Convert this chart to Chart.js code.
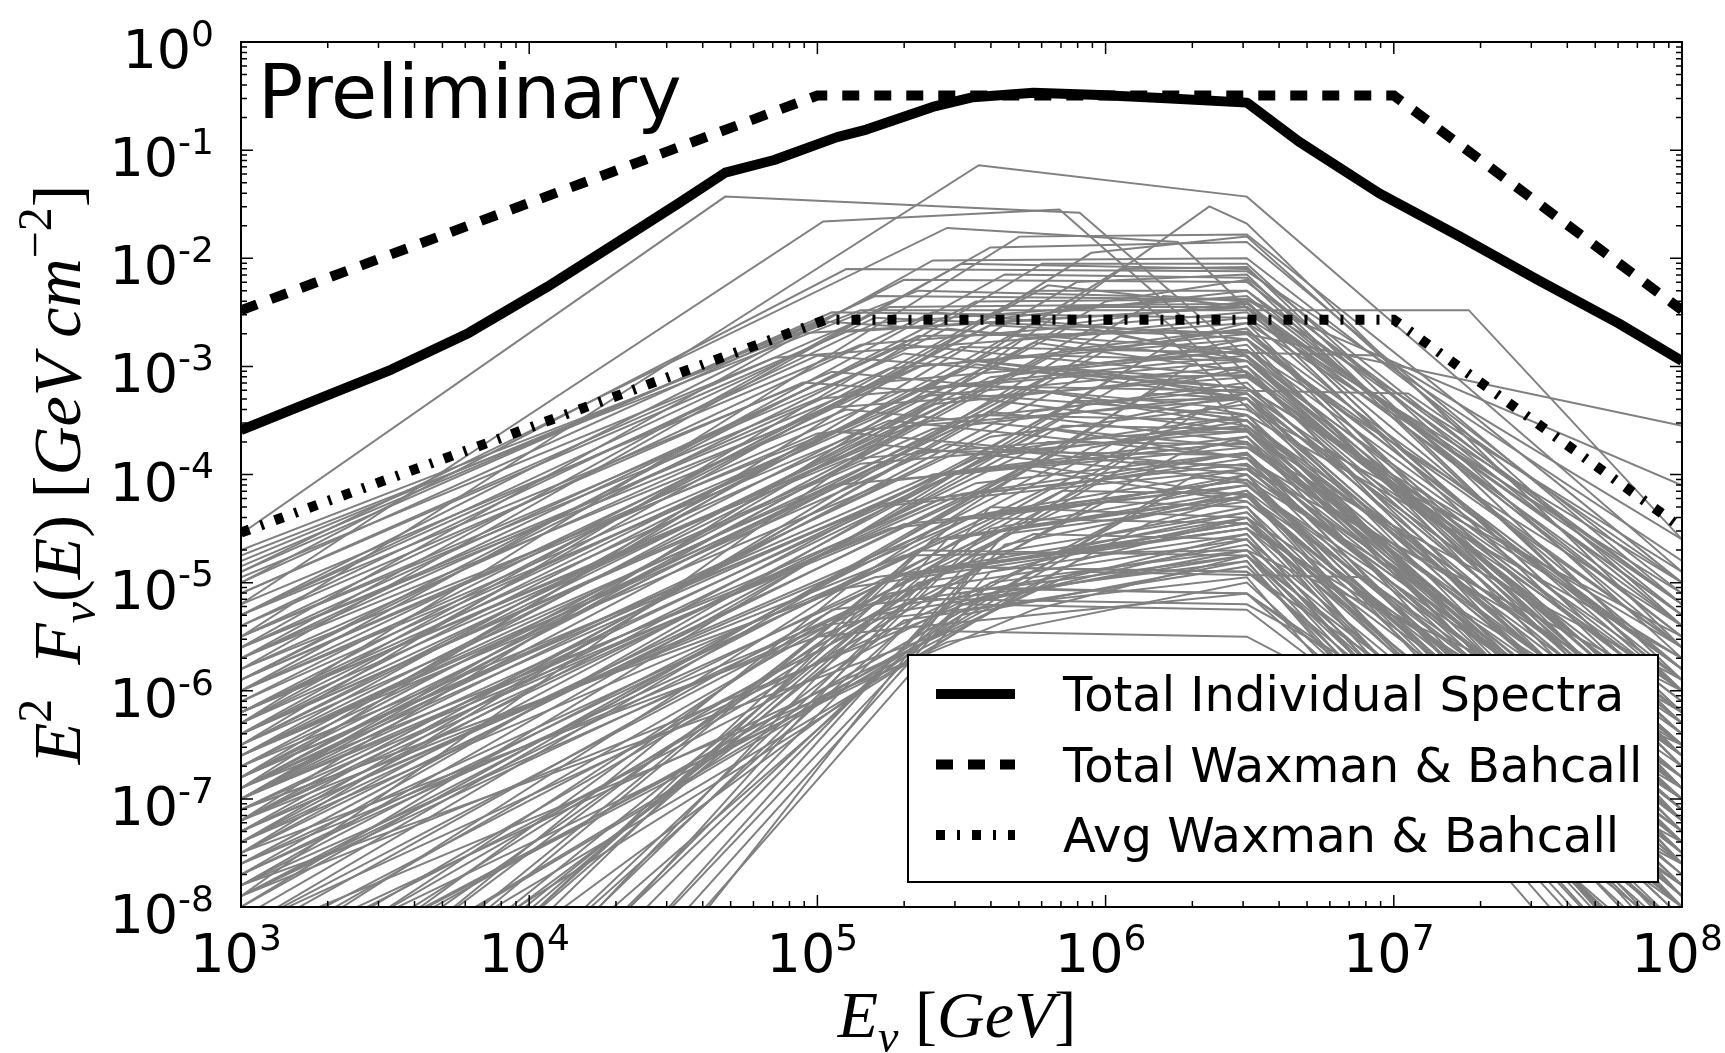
<!DOCTYPE html>
<html>
<head>
<meta charset="utf-8">
<script src="https://cdn.jsdelivr.net/npm/chart.js@4.4.1/dist/chart.umd.min.js"></script>
<style>
  html, body { margin: 0; padding: 0; background: #ffffff; }
  #wrap { width: 1725px; height: 1053px; }
</style>
</head>
<body>
<div id="wrap"><canvas id="spectraChart" width="1725" height="1053"></canvas></div>
<script>

// TICKS (log10 exponents)

const xTickExponents = [3, 4, 5, 6, 7, 8];
const yTickExponents = [0, -1, -2, -3, -4, -5, -6, -7, -8];

const legendLabels = [
  "Total Individual Spectra",
  "Total Waxman & Bahcall",
  "Avg Waxman & Bahcall"
];

// TOTAL INDIVIDUAL SPECTRA (GeV, GeV cm^-2)

const totalSpectraE = [
  1e3, 1.82e3, 3.31e3, 6.17e3, 1.15e4, 2.09e4, 3.31e4, 4.79e4,
  7.08e4, 1.17e5, 1.48e5, 2.51e5, 3.47e5, 5.62e5, 9.55e5, 1.62e6,
  3.09e6, 4.68e6, 8.91e6, 1.70e7, 3.16e7, 6.03e7, 1e8
];
const totalSpectraF = [
  2.57e-4, 4.9e-4, 9.3e-4, 2.04e-3, 5.4e-3, 1.48e-2, 3.24e-2, 6.2e-2,
  8.1e-2, 0.132, 0.155, 0.251, 0.309, 0.339, 0.324, 0.302,
  0.275, 0.120, 0.0398, 0.0158, 6.3e-3, 2.5e-3, 1.12e-3
];

// TOTAL WAXMAN & BAHCALL

const totalWbE = [1e3, 1e5, 1e7, 1e8];
const totalWbF = [3.3e-3, 0.32, 0.32, 3.3e-3];

// AVG WAXMAN & BAHCALL

const avgWbE = [1e3, 1.07e5, 1e7, 1e8];
const avgWbF = [2.9e-5, 2.7e-3, 2.7e-3, 3.2e-5];

// INDIVIDUAL SPECTRA, one row per burst, all log10:
// [F at 1e3 GeV, E break 1, F break 1, E break 2, F break 2, F at 1e8 GeV]

const individualSpectra = [
  [-5.5, 5.56, -1.14, 6.49, -1.43, -4.9],
  [-4.55, 4.68, -1.43, 5.91, -1.58, -6.4],
  [-5.2, 5.02, -1.66, 5.84, -1.55, -6.6],
  [-7.9, 6.36, -1.52, 6.49, -1.68, -5.6],
  [-4.9, 5.45, -1.72, 6.25, -1.85, -6.3],
  [-6.3, 5.70, -1.80, 6.49, -1.78, -5.0],
  [-5.8, 5.60, -1.90, 6.49, -1.85, -5.2],
  [-6.9, 5.95, -1.95, 6.49, -1.80, -5.4],
  [-5.6, 5.40, -2.02, 6.49, -2.00, -5.1],
  [-6.5, 5.78, -2.05, 6.49, -2.05, -5.7],
  [-5.0, 5.10, -2.10, 6.49, -2.12, -4.8],
  [-7.2, 6.05, -2.10, 6.49, -2.08, -5.9],
  [-6.0, 5.65, -2.15, 6.49, -2.18, -5.4],
  [-5.3, 5.30, -2.20, 6.49, -2.22, -5.2],
  [-6.8, 5.90, -2.22, 6.49, -2.15, -6.0],
  [-4.75, 5.35, -2.30, 6.10, -2.35, -6.5],
  [-6.3, 5.75, -2.30, 6.49, -2.30, -5.6],
  [-4.7, 5.15, -2.48, 7.26, -2.48, -4.6],
  [-5.3, 5.20, -2.55, 6.49, -2.70, -3.55],
  [-5.9, 5.55, -2.40, 6.49, -2.38, -4.1],
  [-7.5, 6.20, -2.35, 6.49, -2.40, -6.2],
  [-5.1, 5.25, -2.45, 6.49, -2.42, -5.3],
  [-6.6, 5.85, -2.45, 6.49, -2.45, -5.8],
  [-4.9, 5.05, -2.50, 6.49, -2.55, -5.0],
  [-5.4, 5.20, -2.60, 6.49, -2.35, -5.5],
  [-6.2, 5.60, -2.62, 6.20, -2.70, -6.9],
  [-7.0, 5.95, -2.65, 6.49, -2.95, -6.3],
  [-4.8, 4.90, -2.70, 6.49, -2.45, -5.2],
  [-5.7, 5.35, -2.72, 6.49, -2.68, -5.6],
  [-8.0, 6.25, -2.75, 6.49, -2.60, -6.6],
  [-6.5, 5.75, -2.78, 6.49, -3.05, -6.1],
  [-5.2, 5.15, -2.80, 6.49, -2.50, -5.4],
  [-6.0, 5.50, -2.82, 6.95, -2.90, -4.6],
  [-7.3, 6.00, -2.85, 6.49, -2.65, -6.4],
  [-5.5, 5.30, -2.88, 6.49, -3.20, -5.7],
  [-6.8, 5.80, -2.90, 6.49, -2.95, -6.5],
  [-4.95, 4.85, -2.92, 6.49, -2.60, -5.1],
  [-6.3, 5.55, -2.95, 6.49, -3.25, -6.0],
  [-8.6, 6.30, -2.98, 6.49, -3.05, -6.9],
  [-5.8, 5.35, -3.00, 6.49, -2.70, -5.9],
  [-7.0, 5.85, -3.02, 6.30, -3.10, -7.4],
  [-5.3, 5.05, -3.05, 6.49, -3.40, -5.5],
  [-6.6, 5.65, -3.08, 6.49, -2.80, -6.7],
  [-7.8, 6.10, -3.10, 6.49, -3.08, -6.2],
  [-5.6, 5.20, -3.15, 6.49, -2.85, -5.8],
  [-6.1, 5.45, -3.18, 7.05, -3.25, -5.0],
  [-6.9, 5.70, -3.20, 6.49, -3.50, -6.6],
  [-5.9, 5.30, -3.22, 6.49, -2.90, -6.0],
  [-8.2, 6.15, -3.25, 6.49, -3.30, -7.0],
  [-6.4, 5.50, -3.28, 6.49, -3.60, -6.3],
  [-5.5, 5.00, -3.30, 6.49, -2.95, -6.1],
  [-7.4, 5.90, -3.32, 6.49, -3.30, -6.8],
  [-6.2, 5.40, -3.35, 6.49, -3.05, -6.5],
  [-9.0, 6.35, -3.38, 6.49, -3.45, -7.2],
  [-5.7, 5.10, -3.40, 6.49, -3.75, -5.9],
  [-7.0, 5.75, -3.42, 6.49, -3.15, -6.9],
  [-6.6, 5.55, -3.45, 6.49, -3.50, -6.4],
  [-8.0, 6.05, -3.48, 6.49, -3.25, -7.3],
  [-6.0, 5.25, -3.50, 6.49, -3.85, -6.2],
  [-7.6, 5.85, -3.55, 6.49, -3.58, -7.0],
  [-6.4, 5.40, -3.58, 6.49, -3.25, -6.6],
  [-5.8, 5.05, -3.60, 6.49, -3.95, -6.0],
  [-8.5, 6.20, -3.62, 6.49, -3.60, -7.5],
  [-6.9, 5.60, -3.65, 6.49, -3.35, -6.8],
  [-7.3, 5.80, -3.70, 6.49, -3.72, -7.1],
  [-6.2, 5.20, -3.72, 6.49, -4.05, -6.5],
  [-7.8, 5.95, -3.75, 6.49, -3.50, -7.6],
  [-6.6, 5.35, -3.78, 6.49, -3.82, -6.9],
  [-7.1, 5.55, -3.85, 6.49, -3.55, -7.2],
  [-8.7, 6.10, -3.88, 6.49, -3.92, -7.8],
  [-6.4, 5.15, -3.90, 6.49, -3.60, -6.8],
  [-7.5, 5.70, -3.95, 6.49, -4.25, -7.4],
  [-6.8, 5.40, -4.00, 6.49, -3.70, -7.0],
  [-9.3, 6.30, -4.02, 6.49, -4.08, -8.0],
  [-7.2, 5.55, -4.08, 6.49, -3.80, -7.5],
  [-6.5, 5.05, -4.10, 6.49, -3.75, -6.6],
  [-7.9, 5.85, -4.15, 6.49, -4.18, -7.7],
  [-7.0, 5.45, -4.20, 6.49, -3.90, -7.2],
  [-8.4, 6.00, -4.25, 6.49, -4.30, -8.1],
  [-6.7, 5.20, -4.30, 6.49, -3.95, -6.9],
  [-7.6, 5.65, -4.35, 6.49, -4.05, -7.8],
  [-7.3, 5.50, -4.40, 6.49, -4.45, -7.3],
  [-8.9, 6.15, -4.45, 6.49, -4.20, -8.4],
  [-6.9, 5.25, -4.50, 6.49, -4.10, -6.8],
  [-7.8, 5.75, -4.55, 6.49, -4.60, -7.9],
  [-7.4, 5.45, -4.60, 6.49, -4.20, -7.6],
  [-8.2, 5.85, -4.70, 6.49, -4.35, -8.2],
  [-7.2, 5.30, -4.75, 6.49, -4.70, -6.5],
  [-9.4, 5.90, -4.80, 6.49, -4.40, -8.6],
  [-7.6, 5.50, -4.85, 6.49, -4.45, -7.5],
  [-8.5, 5.90, -4.90, 6.90, -4.95, -7.2],
  [-7.1, 5.20, -4.95, 6.49, -4.50, -6.9],
  [-8.9, 5.80, -5.00, 6.49, -4.55, -8.8],
  [-7.9, 5.65, -5.05, 6.49, -5.10, -7.8],
  [-9.6, 5.70, -5.10, 6.49, -4.60, -9.0],
  [-7.5, 5.35, -5.15, 6.49, -5.20, -7.4],
  [-8.3, 5.75, -5.25, 6.49, -4.75, -8.3],
  [-10.2, 5.50, -5.30, 6.49, -4.80, -9.2],
  [-7.8, 5.45, -5.45, 6.49, -5.50, -7.6],
  [-8.7, 5.45, -5.55, 6.49, -5.00, -8.7],
  [-11.2, 5.60, -4.50, 6.49, -4.10, -7.4],
  [-10.6, 5.35, -4.70, 6.49, -4.75, -7.8],
  [-9.8, 5.50, -4.40, 6.49, -3.95, -7.1],
  [-12.2, 5.60, -4.90, 6.49, -4.40, -7.9],
  [-10.9, 5.45, -5.05, 6.49, -5.10, -8.6],
  [-9.3, 5.25, -5.10, 6.49, -4.60, -8.9],
  [-11.8, 5.65, -4.65, 6.49, -4.20, -7.0],
  [-10.3, 5.40, -4.85, 6.49, -4.90, -8.2],
  [-9.9, 5.30, -5.35, 6.49, -4.85, -8.7],
  [-12.6, 5.50, -5.20, 6.49, -4.70, -9.0],
  [-13.5, 5.55, -4.86, 6.49, -4.90, -7.6],
  [-11.5, 5.45, -4.60, 6.49, -4.15, -7.2],
  [-12.0, 5.60, -4.30, 6.49, -4.40, -7.0],
  [-10.5, 5.30, -4.95, 6.49, -4.45, -8.0],
  [-11.0, 5.50, -5.20, 6.49, -5.25, -8.3],
  [-10.0, 5.20, -5.30, 6.49, -4.75, -8.5],
  [-9.5, 5.00, -5.50, 6.49, -5.10, -8.0],
  [-5.7, 5.50, -2.05, 6.49, -2.10, -5.3],
  [-6.4, 5.80, -2.25, 6.49, -2.45, -5.5],
  [-5.0, 5.20, -2.35, 6.49, -2.38, -4.9],
  [-7.0, 6.00, -2.40, 6.49, -2.20, -6.0],
  [-5.5, 5.40, -2.50, 6.49, -2.75, -5.6],
  [-6.1, 5.65, -2.55, 6.49, -2.30, -5.2],
  [-4.85, 5.00, -2.58, 6.49, -2.85, -5.4],
  [-6.7, 5.90, -2.60, 6.49, -2.40, -6.2],
  [-5.9, 5.45, -2.65, 6.49, -2.95, -5.8],
  [-5.1, 5.10, -2.68, 6.49, -2.45, -5.3],
  [-7.4, 6.05, -2.72, 6.49, -2.90, -6.5],
  [-6.4, 5.70, -2.75, 6.49, -2.55, -6.0],
  [-5.6, 5.30, -2.80, 6.49, -3.10, -5.9],
  [-6.9, 5.85, -2.85, 6.49, -2.65, -6.7],
  [-5.3, 5.00, -2.90, 6.49, -3.20, -5.6],
  [-7.7, 6.15, -2.92, 6.49, -2.75, -6.9],
  [-6.2, 5.55, -2.98, 6.49, -3.30, -6.2],
  [-5.7, 5.25, -3.02, 6.49, -2.75, -5.8],
  [-7.2, 5.95, -3.05, 6.49, -3.30, -6.8],
  [-6.5, 5.60, -3.10, 6.49, -2.85, -6.4],
  [-5.4, 4.95, -3.15, 6.49, -3.45, -5.7],
  [-8.1, 6.20, -3.18, 6.49, -3.00, -7.2],
  [-6.8, 5.75, -3.22, 6.49, -3.50, -6.9],
  [-6.0, 5.35, -3.28, 6.49, -3.00, -6.3],
  [-7.5, 5.95, -3.32, 6.49, -3.55, -7.1],
  [-5.6, 5.05, -3.38, 6.49, -3.10, -6.0],
  [-6.7, 5.60, -3.42, 6.49, -3.70, -6.6],
  [-8.3, 6.25, -3.48, 6.49, -3.30, -7.6],
  [-6.3, 5.35, -3.52, 6.49, -3.20, -6.5],
  [-7.2, 5.80, -3.58, 6.49, -3.85, -7.0],
  [-5.9, 5.00, -3.62, 6.49, -3.30, -6.2],
  [-7.9, 6.05, -3.68, 6.49, -3.45, -7.4],
  [-6.6, 5.45, -3.72, 6.49, -4.00, -6.8],
  [-7.0, 5.65, -3.78, 6.49, -3.45, -7.3],
  [-8.8, 6.25, -3.82, 6.49, -3.65, -7.9],
  [-6.2, 5.10, -3.86, 6.49, -3.55, -6.5],
  [-7.4, 5.75, -3.92, 6.49, -4.20, -7.6],
  [-6.9, 5.45, -3.98, 6.49, -3.65, -7.1],
  [-8.2, 6.00, -4.02, 6.49, -3.80, -8.0],
  [-6.6, 5.25, -4.06, 6.49, -3.70, -6.9],
  [-7.7, 5.80, -4.12, 6.49, -3.85, -7.8],
  [-7.1, 5.50, -4.18, 6.49, -3.80, -7.4],
  [-9.0, 6.20, -4.22, 6.49, -4.00, -8.3],
  [-6.8, 5.20, -4.28, 6.49, -3.90, -6.7],
  [-7.9, 5.85, -4.32, 6.49, -4.00, -8.0],
  [-7.3, 5.55, -4.38, 6.49, -4.05, -7.5],
  [-8.6, 6.05, -4.42, 6.49, -4.15, -8.5],
  [-7.0, 5.30, -4.46, 6.49, -4.10, -7.0],
  [-7.7, 5.65, -4.50, 6.49, -4.20, -7.9],
  [-9.3, 6.00, -4.55, 6.49, -4.30, -8.9],
  [-10.8, 5.40, -4.60, 6.49, -4.20, -7.6],
  [-11.6, 5.55, -4.75, 6.49, -4.35, -8.1],
  [-9.6, 5.10, -5.05, 6.49, -4.50, -8.4],
  [-10.4, 5.35, -5.00, 6.49, -4.55, -8.8],
  [-12.4, 5.65, -4.55, 6.49, -4.25, -7.3],
  [-9.9, 5.25, -4.95, 6.49, -4.50, -7.7],
  [-11.0, 5.45, -4.85, 6.49, -4.40, -8.9],
  [-12.9, 5.60, -5.00, 6.49, -4.70, -8.2],
  [-9.2, 5.05, -5.25, 6.49, -4.75, -9.1],
  [-10.1, 5.30, -5.20, 6.49, -4.80, -9.4],
  [-11.4, 5.50, -5.10, 6.49, -4.65, -8.0],
  [-8.9, 5.00, -5.40, 6.49, -4.95, -9.6]
];



const SANS = "'DejaVu Sans', 'Noto Sans', sans-serif";
const SERIF = "'Liberation Serif', 'DejaVu Serif', serif";



// HELPERS

function toPoints(eList, fList) {
  return eList.map((e, i) => ({ x: e, y: fList[i] }));
}

function spectrumPoints(row) {
  const p = v => Math.pow(10, v);
  return [
    { x: 1e3, y: p(row[0]) },
    { x: p(row[1]), y: p(row[2]) },
    { x: p(row[3]), y: p(row[4]) },
    { x: 1e8, y: p(row[5]) }
  ];
}

// pieces: [text, "b" | "sup" | "sub", italic]
function drawMath(ctx, pieces, x, y, align, size, family, smallRatio, supRise, subDrop) {

  const fontFor = piece =>
    (piece[2] ? "italic " : "") +
    Math.round(piece[1] === "b" ? size : size * smallRatio) +
    "px " + family;

  let total = 0;

  const widths = pieces.map(piece => {
    ctx.font = fontFor(piece);
    const w = ctx.measureText(piece[0]).width;
    total += w;
    return w;
  });

  let cx = x;
  if (align === "right") cx = x - total;
  if (align === "center") cx = x - total / 2;

  ctx.textAlign = "left";
  ctx.textBaseline = "alphabetic";

  pieces.forEach((piece, i) => {
    ctx.font = fontFor(piece);
    let dy = 0;
    if (piece[1] === "sup") dy = -size * supRise;
    if (piece[1] === "sub") dy = size * subDrop;
    ctx.fillText(piece[0], cx, y + dy);
    cx += widths[i];
  });
}



// DATASETS

const heavyStyles = [
  { width: 10, dash: [] },
  { width: 10, dash: [17, 15] },
  { width: 10, dash: [9, 12, 3, 12] }
];

const datasets = [
  {
    label: legendLabels[0],
    data: toPoints(totalSpectraE, totalSpectraF),
    borderColor: "#000000",
    borderWidth: heavyStyles[0].width,
    borderDash: heavyStyles[0].dash,
    borderJoinStyle: "round"
  },
  {
    label: legendLabels[1],
    data: toPoints(totalWbE, totalWbF),
    borderColor: "#000000",
    borderWidth: heavyStyles[1].width,
    borderDash: heavyStyles[1].dash
  },
  {
    label: legendLabels[2],
    data: toPoints(avgWbE, avgWbF),
    borderColor: "#000000",
    borderWidth: heavyStyles[2].width,
    borderDash: heavyStyles[2].dash
  }
];

individualSpectra.forEach((row, i) => {
  datasets.push({
    label: "spectrum " + (i + 1),
    data: spectrumPoints(row),
    borderColor: "#808080",
    borderWidth: 2
  });
});

datasets.forEach(ds => {
  ds.pointRadius = 0;
  ds.fill = false;
  ds.tension = 0;
  ds.clip = 0;
});



// FRAME, TICKS, LABELS, LEGEND

const decorations = {

  id: "decorations",

  afterDatasetsDraw(chart) {

    const ctx = chart.ctx;
    const area = chart.chartArea;
    const xs = chart.scales.x;
    const ys = chart.scales.y;

    ctx.save();

    // LEGEND BOX

    const box = { left: 908, top: 655, right: 1658, bottom: 882 };

    ctx.fillStyle = "#ffffff";
    ctx.fillRect(box.left, box.top, box.right - box.left, box.bottom - box.top);
    ctx.strokeStyle = "#000000";
    ctx.lineWidth = 2;
    ctx.setLineDash([]);
    ctx.strokeRect(box.left, box.top, box.right - box.left, box.bottom - box.top);

    legendLabels.forEach((label, i) => {
      const rowY = 694 + i * 70.5;
      ctx.beginPath();
      ctx.lineCap = "butt";
      ctx.lineWidth = heavyStyles[i].width;
      ctx.setLineDash(heavyStyles[i].dash);
      ctx.moveTo(936, rowY);
      ctx.lineTo(1015, rowY);
      ctx.stroke();
      ctx.setLineDash([]);
      ctx.fillStyle = "#000000";
      ctx.font = "48px " + SANS;
      ctx.textAlign = "left";
      ctx.textBaseline = "alphabetic";
      ctx.fillText(label, 1063, rowY + 17);
    });

    // AXES FRAME

    ctx.strokeStyle = "#000000";
    ctx.lineWidth = 2;
    ctx.strokeRect(area.left, area.top, area.right - area.left, area.bottom - area.top);

    // TICKS (inward, all four sides)

    ctx.lineWidth = 1.5;

    const tickX = (value, len) => {
      const px = xs.getPixelForValue(value);
      ctx.beginPath();
      ctx.moveTo(px, area.bottom);
      ctx.lineTo(px, area.bottom - len);
      ctx.moveTo(px, area.top);
      ctx.lineTo(px, area.top + len);
      ctx.stroke();
    };

    const tickY = (value, len) => {
      const py = ys.getPixelForValue(value);
      ctx.beginPath();
      ctx.moveTo(area.left, py);
      ctx.lineTo(area.left + len, py);
      ctx.moveTo(area.right, py);
      ctx.lineTo(area.right - len, py);
      ctx.stroke();
    };

    xTickExponents.forEach((ex, i) => {
      tickX(Math.pow(10, ex), 12);
      if (i < xTickExponents.length - 1) {
        for (let m = 2; m <= 9; m++) tickX(m * Math.pow(10, ex), 6);
      }
    });

    yTickExponents.forEach((ex, i) => {
      tickY(Math.pow(10, ex), 12);
      if (i > 0) {
        for (let m = 2; m <= 9; m++) tickY(m * Math.pow(10, ex), 6);
      }
    });

    // TICK LABELS

    ctx.fillStyle = "#000000";

    xTickExponents.forEach(ex => {
      const px = xs.getPixelForValue(Math.pow(10, ex));
      drawMath(ctx, [["10", "b"], [String(ex), "sup"]],
        px - 5, 972, "center", 54, SANS, 0.67, 0.41, 0);
    });

    yTickExponents.forEach(ex => {
      const py = ys.getPixelForValue(Math.pow(10, ex));
      const expText = ex < 0 ? "-" + Math.abs(ex) : String(ex);
      drawMath(ctx, [["10", "b"], [expText, "sup"]],
        214, py + 26, "right", 54, SANS, 0.67, 0.41, 0);
    });

    // AXIS TITLES

    drawMath(ctx, [
      ["E", "b", true], ["\u03bd", "sub", true], [" ", "b"],
      ["[", "b"], ["GeV", "b", true], ["]", "b"]
    ], 957, 1037, "center", 66, SERIF, 0.7, 0.4, 0.22);

    ctx.save();
    ctx.translate(80, (area.top + area.bottom) / 2);
    ctx.rotate(-Math.PI / 2);
    drawMath(ctx, [
      ["E", "b", true], ["2", "sup"], ["  ", "b"],
      ["F", "b", true], ["\u03bd", "sub", true], ["(", "b"], ["E", "b", true], [")", "b"],
      [" ", "b"], ["[", "b"], ["GeV", "b", true], [" ", "b"], ["cm", "b", true],
      ["\u22122", "sup"], ["]", "b"]
    ], 0, 0, "center", 68, SERIF, 0.7, 0.42, 0.22);
    ctx.restore();

    // PRELIMINARY

    ctx.font = "75px " + SANS;
    ctx.textAlign = "left";
    ctx.textBaseline = "alphabetic";
    ctx.fillText("Preliminary", 258, 118);

    ctx.restore();
  }
};



// CHART

new Chart(
  document.getElementById("spectraChart"),
  {
    type: "line",

    data: { datasets: datasets },

    options: {
      responsive: false,
      animation: false,
      events: [],
      parsing: true,

      layout: {
        padding: { left: 241, top: 42, right: 43, bottom: 146 }
      },

      plugins: {
        legend: { display: false },
        tooltip: { enabled: false }
      },

      scales: {
        x: {
          type: "logarithmic",
          min: 1e3,
          max: 1e8,
          display: false
        },
        y: {
          type: "logarithmic",
          min: 1e-8,
          max: 1,
          display: false
        }
      }
    },

    plugins: [decorations]
  }
);

</script>
</body>
</html>
